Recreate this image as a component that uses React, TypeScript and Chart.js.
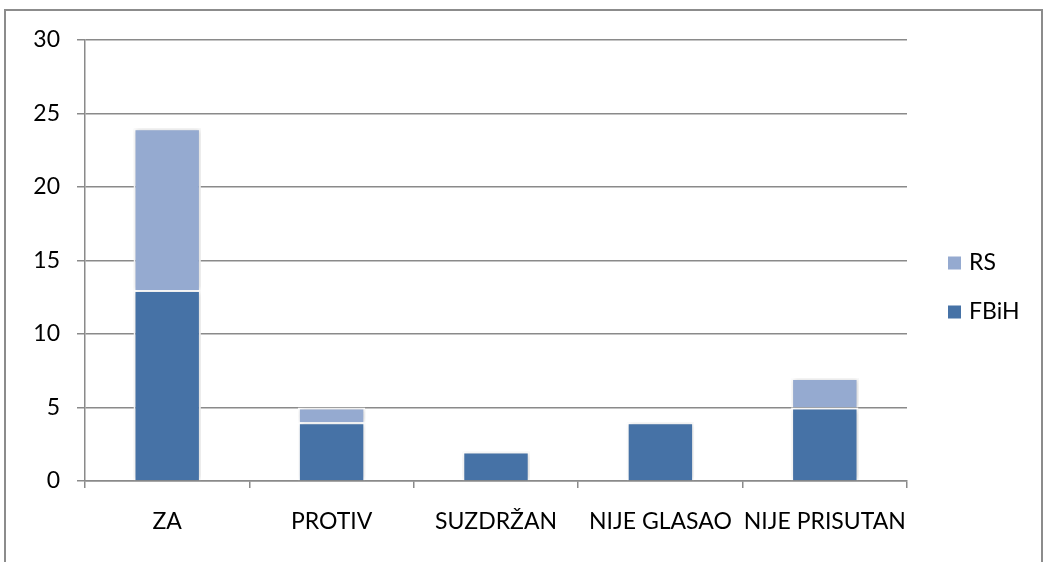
import React, { useEffect, useRef } from "react";
import { Chart, registerables } from "chart.js";

Chart.register(...registerables);

const categories = ["ZA", "PROTIV", "SUZDRŽAN", "NIJE GLASAO", "NIJE PRISUTAN"];
const fbihValues = [13, 4, 2, 4, 5];
const rsValues = [11, 1, 0, 0, 2];
const seriesNames = ["FBiH", "RS"];
const seriesColors = ["#4672A6", "#95AAD0"];
const yMin = 0;
const yMax = 30;
const yStep = 5;

const FONT = "Lato, 'Open Sans', sans-serif";
const FONT_SIZE = 23;
const GRID = "#8a8a8a";

const shadowPlugin = {
  id: "barShadow",
  beforeDatasetsDraw(chart: any) {
    const ctx = chart.ctx;
    ctx.save();
    ctx.shadowColor = "rgba(0,0,0,0.18)";
    ctx.shadowBlur = 5;
    ctx.shadowOffsetX = 1;
    ctx.shadowOffsetY = 0;
  },
  afterDatasetsDraw(chart: any) {
    chart.ctx.restore();
  },
};

const legendPlugin = {
  id: "sideLegend",
  afterDraw(chart: any) {
    const ctx = chart.ctx;
    const area = chart.chartArea;
    const items = chart.data.datasets
      .map((d: any) => ({ label: d.label, color: d.backgroundColor }))
      .reverse();
    const x = area.right + 41;
    const startY = area.top + 223;
    const gap = 49;
    ctx.save();
    ctx.font = `${FONT_SIZE}px ${FONT}`;
    ctx.textBaseline = "middle";
    ctx.textAlign = "left";
    items.forEach((it: any, i: number) => {
      const cy = startY + i * gap;
      ctx.fillStyle = it.color;
      ctx.fillRect(x, cy - 6.5, 13, 13);
      ctx.fillStyle = "#000";
      ctx.fillText(it.label, x + 21, cy);
    });
    ctx.restore();
  },
};

export default function App() {
  const ref = useRef<HTMLCanvasElement | null>(null);

  useEffect(() => {
    if (!ref.current) return;
    const chart = new Chart(ref.current, {
      type: "bar",
      data: {
        labels: categories,
        datasets: [
          {
            label: seriesNames[0],
            data: fbihValues,
            backgroundColor: seriesColors[0],
            borderColor: "#ffffff",
            borderWidth: 2,
            barPercentage: 0.41,
            categoryPercentage: 1,
          },
          {
            label: seriesNames[1],
            data: rsValues,
            backgroundColor: seriesColors[1],
            borderColor: "#ffffff",
            borderWidth: 2,
            barPercentage: 0.41,
            categoryPercentage: 1,
          },
        ],
      },
      options: {
        responsive: false,
        animation: false,
        layout: { padding: { left: 0, top: 40, right: 138, bottom: 0 } },
        plugins: {
          legend: { display: false },
          tooltip: { enabled: false },
        },
        scales: {
          x: {
            stacked: true,
            afterFit: (s: any) => {
              s.height = 81;
            },
            grid: {
              offset: true,
              drawOnChartArea: false,
              drawTicks: true,
              tickLength: 7,
              color: GRID,
              lineWidth: 1.5,
            },
            border: { color: GRID, width: 1.5 },
            ticks: {
              color: "#000",
              padding: 20,
              font: { family: FONT, size: FONT_SIZE },
              maxRotation: 0,
              autoSkip: false,
            },
          },
          y: {
            stacked: true,
            min: yMin,
            max: yMax,
            afterFit: (s: any) => {
              s.width = 85;
            },
            grid: {
              color: GRID,
              lineWidth: 1.5,
              drawTicks: true,
              tickLength: 8,
            },
            border: { color: GRID, width: 1.5 },
            ticks: {
              stepSize: yStep,
              color: "#000",
              padding: 17,
              font: { family: FONT, size: FONT_SIZE },
            },
          },
        },
      },
      plugins: [shadowPlugin, legendPlugin],
    });
    return () => chart.destroy();
  }, []);

  return (
    <div
      style={{
        position: "fixed",
        left: 0,
        top: 0,
        width: 1045,
        height: 562,
        background: "#fff",
      }}
    >
      <div
        style={{
          position: "absolute",
          left: 4,
          top: 9,
          width: 1039,
          height: 570,
          border: "2px solid #8c8c8c",
          boxSizing: "border-box",
        }}
      />
      <canvas
        ref={ref}
        width={1045}
        height={562}
        style={{ position: "absolute", left: 0, top: 0 }}
      />
    </div>
  );
}
